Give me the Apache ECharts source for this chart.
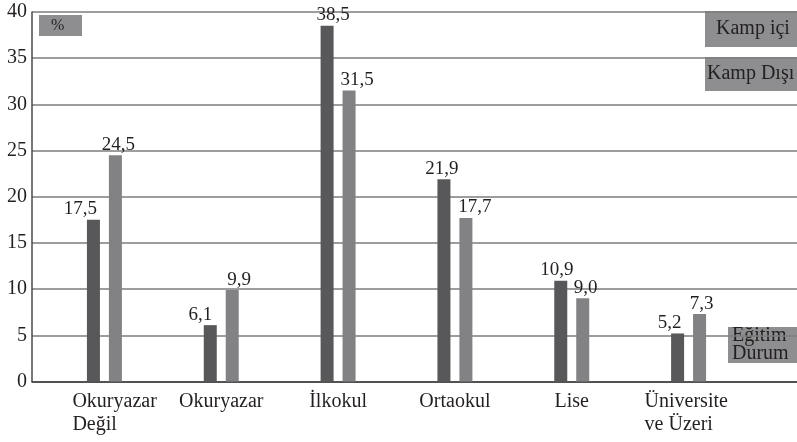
<!DOCTYPE html>
<html>
<head>
<meta charset="utf-8">
<script src="https://cdn.jsdelivr.net/npm/echarts@6/dist/echarts.min.js"></script>
<style>
    html, body { margin: 0; padding: 0; background: #fff; }
    #chart { width: 797px; height: 442px; }
</style>
</head>
<body>
<div id="chart"></div>
<script>
// eğitim durumu - kamp içi / kamp dışı (%)
var categories = ['Okuryazar\nDeğil', 'Okuryazar', 'İlkokul', 'Ortaokul', 'Lise', 'Üniversite\nve Üzeri'];
var kampIci = [17.5, 6.1, 38.5, 21.9, 10.9, 5.2];
var kampDisi = [24.5, 9.9, 31.5, 17.7, 9.0, 7.3];
var yMin = 0, yMax = 40, yStep = 5;

// label nudges (px) so the numbers sit like in the printed figure
var iciShift = [-13, -10, 6, -2, -4, -8];
var disiShift = [3, 7, 8, 9, 3, 2];
var xIndent = [24, 0, 0, 0, 0, 0];

var FONT = "'Liberation Serif', 'DejaVu Serif', serif";
var TEXT = '#231f20';
var DARK = '#58585a';
var LIGHT = '#828285';
var BOX = '#8e8e90';

function fmt(v) {
    return v.toFixed(1).replace('.', ',');
}

function withLabels(values, shifts) {
    return values.map(function (v, i) {
        return { value: v, label: { offset: [shifts[i], 0] } };
    });
}

function box(x, y, w, h, lines, fontSize, lineH, tx) {
    return {
        type: 'group',
        children: [
            { type: 'rect', shape: { x: x, y: y, width: w, height: h }, style: { fill: BOX } },
            {
                type: 'text', x: x + tx, y: y + h / 2,
                style: {
                    text: lines, fill: TEXT, font: fontSize + 'px ' + FONT,
                    verticalAlign: 'middle', lineHeight: lineH
                }
            }
        ]
    };
}

var chart = echarts.init(document.getElementById('chart'));
var option = {
    animation: false,
    textStyle: { fontFamily: FONT, color: TEXT },
    grid: [
        { left: 32, right: 0, top: 12, bottom: 60.5 },
        { left: 46, right: 50, top: 12, bottom: 60.5 }
    ],
    xAxis: [
        {
            gridIndex: 0, type: 'value', min: 0, max: 1,
            axisLine: { show: true, lineStyle: { color: '#3a3a3a', width: 1.5 } },
            axisTick: { show: false }, axisLabel: { show: false }, splitLine: { show: false }
        },
        {
            gridIndex: 1, type: 'category', data: categories,
            axisLine: { show: false }, axisTick: { show: false },
            axisLabel: {
                margin: 9, interval: 0,
                fontFamily: FONT, fontSize: 20, color: TEXT, lineHeight: 23,
                formatter: function (v, i) {
                    var lines = v.split('\n');
                    if (lines.length === 1) return v;
                    return lines.map(function (s) {
                        return (xIndent[i] ? '{s| }' : '') + '{a|' + s + '}';
                    }).join('\n');
                },
                rich: {
                    a: { fontFamily: FONT, fontSize: 20, color: TEXT, align: 'left', width: 88, lineHeight: 23 },
                    s: { width: 24, align: 'left', lineHeight: 23 }
                }
            }
        }
    ],
    yAxis: [
        {
            gridIndex: 0, type: 'value', min: yMin, max: yMax, interval: yStep,
            axisLine: { show: true, lineStyle: { color: '#4a4a4a', width: 1.5 } },
            axisTick: { show: false },
            axisLabel: { margin: 5, fontFamily: FONT, fontSize: 20, color: TEXT },
            splitLine: { show: true, lineStyle: { color: '#7c7c7c', width: 1.6 } }
        },
        {
            gridIndex: 1, type: 'value', min: yMin, max: yMax, interval: yStep,
            show: false, splitLine: { show: false }
        }
    ],
    series: [
        {
            name: 'Kamp içi', type: 'bar', xAxisIndex: 1, yAxisIndex: 1,
            barWidth: 13, barGap: '69%',
            itemStyle: { color: DARK },
            label: {
                show: true, position: 'top', distance: 1,
                fontFamily: FONT, fontSize: 19, color: TEXT,
                formatter: function (p) { return fmt(p.value); }
            },
            data: withLabels(kampIci, iciShift)
        },
        {
            name: 'Kamp Dışı', type: 'bar', xAxisIndex: 1, yAxisIndex: 1,
            barWidth: 13,
            itemStyle: { color: LIGHT },
            label: {
                show: true, position: 'top', distance: 1,
                fontFamily: FONT, fontSize: 19, color: TEXT,
                formatter: function (p) { return fmt(p.value); }
            },
            data: withLabels(kampDisi, disiShift)
        }
    ],
    graphic: [
        box(39, 15, 43, 21, '%', 16, 16, 12),
        box(705, 11, 92, 36, 'Kamp içi', 20, 20, 11),
        box(705, 57, 92, 34, 'Kamp Dışı', 20, 20, 2),
        box(728, 327, 69, 36, 'Eğitim\nDurum', 20, 18, 4)
    ]
};
chart.setOption(option);
</script>
</body>
</html>
